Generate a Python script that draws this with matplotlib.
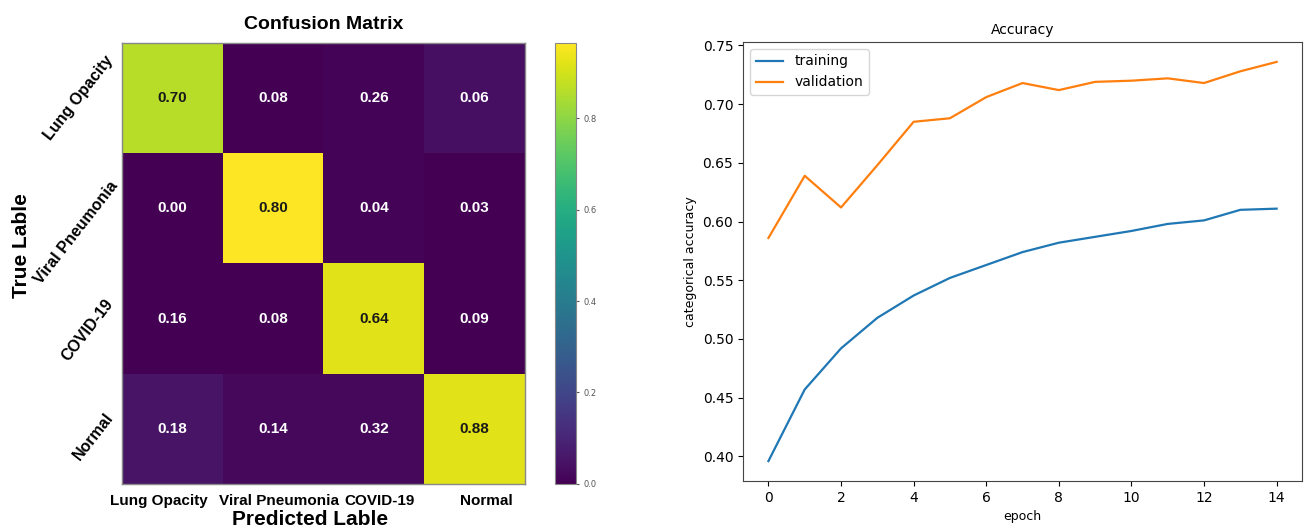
import matplotlib
matplotlib.use("Agg")
import matplotlib.pyplot as plt
import matplotlib.transforms as mtransforms
import numpy as np

CLASSES = ['Lung Opacity', 'Viral Pneumonia', 'COVID-19', 'Normal']

# numbers printed in the cells
cm_text = [
    [0.70, 0.08, 0.26, 0.06],
    [0.00, 0.80, 0.04, 0.03],
    [0.16, 0.08, 0.64, 0.09],
    [0.18, 0.14, 0.32, 0.88],
]
# colour value of each cell (read from the colourbar, not the same as the text)
cm_shade = [
    [0.86, 0.00, 0.01, 0.04],
    [0.00, 0.964, 0.01, 0.00],
    [0.00, 0.00, 0.92, 0.00],
    [0.05, 0.02, 0.02, 0.92],
]
CBAR_MAX = 0.964
CBAR_TICKS = [0.0, 0.2, 0.4, 0.6, 0.8]

epochs = list(range(15))
training = [0.396, 0.457, 0.492, 0.518, 0.537, 0.552, 0.563, 0.574,
            0.582, 0.587, 0.592, 0.598, 0.601, 0.610, 0.611]
validation = [0.586, 0.639, 0.612, 0.648, 0.685, 0.688, 0.706, 0.718,
              0.712, 0.719, 0.720, 0.722, 0.718, 0.728, 0.736]

FONT = 'Liberation Sans'


def shift_labels(fig, labels, offsets):
    # offsets in pixels (dx, dy)
    for lab, (dx, dy) in zip(labels, offsets):
        lab.set_transform(lab.get_transform() +
                          mtransforms.ScaledTranslation(dx / 100, dy / 100, fig.dpi_scale_trans))


def confusion_panel(fig):
    ax = fig.add_axes([0.0936, 0.0851, 0.309, 0.8336])
    cax = fig.add_axes([0.4256, 0.0851, 0.0161, 0.8336])
    shade = np.asarray(cm_shade)
    im = ax.imshow(shade, cmap='viridis', vmin=0, vmax=CBAR_MAX, aspect='auto')

    for i in range(len(CLASSES)):
        for j in range(len(CLASSES)):
            dark = shade[i, j] > CBAR_MAX / 2
            ax.text(j, i, "%.2f" % cm_text[i][j], ha='center', va='center',
                    fontsize=11, fontweight='bold', family=FONT,
                    color='#1a1a1a' if dark else 'white')

    ax.set_xticks(range(len(CLASSES)))
    ax.set_yticks(range(len(CLASSES)))
    ax.set_xticklabels(CLASSES, fontsize=11, fontweight='bold', family=FONT)
    ax.set_yticklabels(CLASSES, fontsize=11.5, fontweight='bold', family=FONT,
                       rotation=52, ha='right', va='center')
    ax.tick_params(length=0)
    ax.tick_params(axis='x', pad=7)
    ax.tick_params(axis='y', pad=4)

    # labels sit a little off the cell centres in the original
    shift_labels(fig, ax.get_xticklabels(), [(-14, 0), (6, 0), (6, 0), (12, 0)])
    shift_labels(fig, ax.get_yticklabels(), [(0, 0), (4, -24), (0, -12), (0, -8)])

    for s in ax.spines.values():
        s.set_color('#888888')
        s.set_linewidth(1.0)

    ax.set_title("Confusion Matrix", fontsize=14, fontweight='bold', family=FONT, pad=10)
    ax.set_xlabel("Predicted Lable", fontsize=15, fontweight='bold', family=FONT)
    ax.set_ylabel("True Lable", fontsize=15, fontweight='bold', family=FONT)
    ax.xaxis.set_label_coords(0.466, -0.058)
    ax.yaxis.set_label_coords(-0.225, 0.54)

    cb = fig.colorbar(im, cax=cax, ticks=CBAR_TICKS)
    cb.ax.tick_params(labelsize=6, length=2, colors='#555555')
    cb.outline.set_edgecolor('#888888')


def accuracy_panel(fig):
    ax = fig.add_axes([0.5698, 0.0907, 0.4287, 0.830])
    ax.plot(epochs, training, color='#1f77b4', lw=1.6, label='training')
    ax.plot(epochs, validation, color='#ff7f0e', lw=1.6, label='validation')
    ax.set_xticks(range(0, 15, 2))
    ax.set_title("Accuracy", fontsize=10)
    ax.set_xlabel("epoch", fontsize=9)
    ax.set_ylabel("categorical accuracy", fontsize=9)
    ax.tick_params(labelsize=10)
    ax.legend(loc='upper left', fontsize=10)
    for s in ax.spines.values():
        s.set_color('#444444')


if __name__ == '__main__':
    fig = plt.figure(figsize=(13.04, 5.29), dpi=100)
    confusion_panel(fig)
    accuracy_panel(fig)
    fig.savefig("out.png", dpi=100)
